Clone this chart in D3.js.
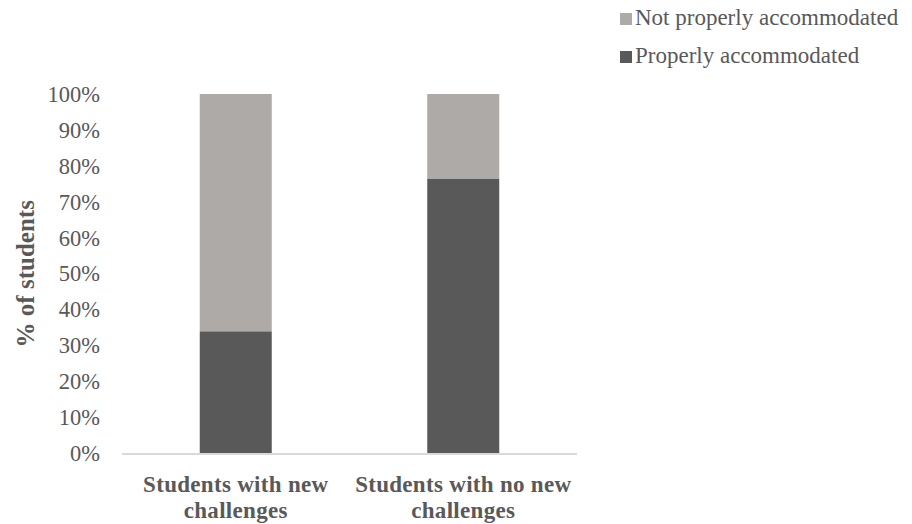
<!DOCTYPE html>
<html>
<head>
<meta charset="utf-8">
<script src="https://cdn.jsdelivr.net/npm/d3@7"></script>
<style>
  body { margin: 0; background: #fff; }
  text { font-family: "Liberation Serif", "Times New Roman", serif; }
</style>
</head>
<body>
<div id="chart"></div>
<script>
// data
let categories = [["Students with new", "challenges"], ["Students with no new", "challenges"]]
let seriesNames = ["Properly accommodated", "Not properly accommodated"]
let properly = [34, 76.5]
let notProperly = [66, 23.5]
let tickValues = [0, 10, 20, 30, 40, 50, 60, 70, 80, 90, 100]

let colours = {"Properly accommodated": "#595959", "Not properly accommodated": "#adaaa8"}

let svgWidth = 912
let svgHeight = 524
let margin = {left: 122, right: 335, top: 94, bottom: 70}

let svg = d3.select("#chart")
    .append("svg")
        .attr("width", svgWidth)
        .attr("height", svgHeight)

// build rows for the stack
let rows = categories.map(function(c, i){
    return {key: c.join(" "), lines: c, "Properly accommodated": properly[i], "Not properly accommodated": notProperly[i]}
})

let x = d3.scaleBand()
    .domain(rows.map(d => d.key))
    .range([margin.left, svgWidth - margin.right])
    .paddingInner(0.6835)
    .paddingOuter(0.6835 / 2)

let y = d3.scaleLinear()
    .domain([0, 100])
    .range([svgHeight - margin.bottom - 0.5, margin.top])

let stack = d3.stack().keys(seriesNames)
let stacked = stack(rows)

// bars
svg.selectAll("g.series")
    .data(stacked)
    .join("g")
    .attr("class", "series")
    .attr("fill", d => colours[d.key])
    .selectAll("rect")
    .data(d => d)
    .join("rect")
    .attr("x", d => x(d.data.key))
    .attr("width", x.bandwidth())
    .attr("y", d => y(d[1]))
    .attr("height", d => y(d[0]) - y(d[1]))

// y axis labels (no line, no ticks)
let yAxis = svg.append("g")
    .attr("transform", `translate(${margin.left}, 0)`)
    .call(d3.axisLeft(y).tickValues(tickValues).tickFormat(d => d + "%").tickSize(0).tickPadding(22))
yAxis.select(".domain").remove()
yAxis.selectAll("text")
    .style("font-family", "'Liberation Serif', serif")
    .style("font-size", "22.5px")
    .attr("fill", "#595959")

// baseline
svg.append("line")
    .attr("x1", margin.left)
    .attr("x2", svgWidth - margin.right)
    .attr("y1", y(0) + 0.5)
    .attr("y2", y(0) + 0.5)
    .attr("stroke", "#d9d9d9")
    .attr("stroke-width", 2)

// category labels, two lines each
let catLabels = svg.selectAll("text.cat")
    .data(rows)
    .join("text")
    .attr("class", "cat")
    .attr("text-anchor", "middle")
    .attr("fill", "#595959")
    .style("font-size", "23px")
    .style("font-weight", "bold")
    .style("letter-spacing", "0.3px")

catLabels.selectAll("tspan")
    .data(d => d.lines.map(l => ({line: l, key: d.key})))
    .join("tspan")
    .attr("x", d => x(d.key) + x.bandwidth() / 2)
    .attr("y", (d, i) => 492 + i * 26)
    .text(d => d.line)

// y axis title
svg.append("text")
    .attr("transform", `translate(34, ${(y(0) + y(100)) / 2}) rotate(-90)`)
    .attr("text-anchor", "middle")
    .attr("fill", "#595959")
    .style("font-size", "25px")
    .style("font-weight", "bold")
    .text("% of students")

// legend
let legendOrder = ["Not properly accommodated", "Properly accommodated"]
let legend = svg.selectAll("g.legend")
    .data(legendOrder)
    .join("g")
    .attr("class", "legend")
    .attr("transform", (d, i) => `translate(620, ${13 + i * 38})`)

legend.append("rect")
    .attr("width", 12)
    .attr("height", 12)
    .attr("fill", d => colours[d])

legend.append("text")
    .attr("x", 15)
    .attr("y", 12)
    .attr("fill", "#595959")
    .style("font-size", "23px")
    .text(d => d)
</script>
</body>
</html>
